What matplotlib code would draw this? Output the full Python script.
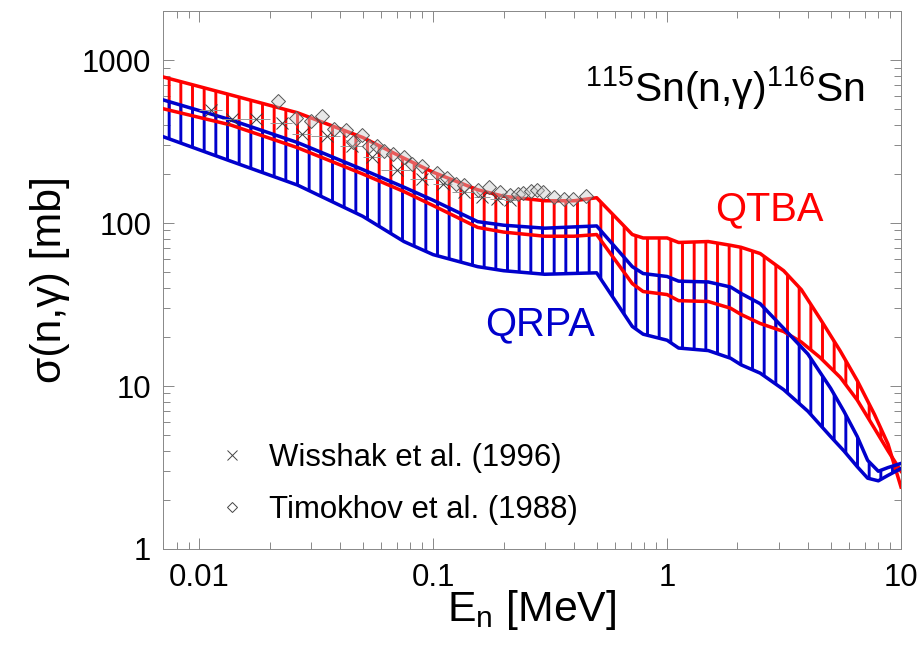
import matplotlib
matplotlib.use("Agg")
import matplotlib.pyplot as plt
from matplotlib.lines import Line2D
from matplotlib.ticker import LogLocator, NullFormatter, FuncFormatter

# Figure is laid out at 70 dpi so the '|' hatch (6 lines/inch) gives ~12 px spacing
DPI = 70
plt.rcParams['font.family'] = ['Liberation Sans', 'DejaVu Sans']
plt.rcParams['mathtext.fontset'] = 'custom'
plt.rcParams['mathtext.rm'] = 'Liberation Sans'
plt.rcParams['mathtext.it'] = 'Liberation Sans:italic'
plt.rcParams['mathtext.default'] = 'regular'
plt.rcParams['hatch.linewidth'] = 3.0

RED = '#ff0000'
BLUE = '#0000cc'

# QTBA band (upper / lower limits), energies in MeV, cross sections in mb
e_qtba = [0.007, 0.0136, 0.0263, 0.05, 0.075, 0.1, 0.155, 0.2, 0.3, 0.4, 0.5,
          0.71, 0.79, 1.0, 1.12, 1.5, 1.87, 2.07, 2.5, 3.15, 3.75, 4.5, 5.5,
          6.5, 7.7, 8.8, 10.0]
qtba_hi = [788, 612, 475, 335, 250, 205, 160, 146, 137, 137, 143,
           85, 81, 81, 76, 77, 73, 71, 65, 51, 39, 26, 16.4,
           10.8, 6.7, 4.4, 2.4]
qtba_lo = [503, 400, 290, 200, 156, 128, 94, 88, 83, 83, 85,
           42.5, 38, 36.4, 33.4, 33, 30, 27.5, 24.2, 21.6, 18.6, 15, 11.3,
           8.2, 5.5, 4.0, 3.0]

# QRPA band
e_qrpa = [0.007, 0.0136, 0.0263, 0.05, 0.075, 0.1, 0.155, 0.2, 0.3, 0.5,
          0.71, 0.79, 1.0, 1.12, 1.5, 1.87, 2.07, 2.5, 3.15, 4.0, 5.0, 5.7,
          6.5, 7.2, 8.0, 8.8, 10.0]
qrpa_hi = [570, 430, 312, 213, 166, 138, 102, 97, 93, 96,
           54, 49, 47, 44, 43.5, 40.5, 37, 32, 22.6, 15.7, 9.7, 7.0,
           4.9, 3.5, 3.0, 3.16, 3.35]
qrpa_lo = [339, 240, 171, 110, 77, 64, 54, 51, 48.5, 49.5,
           23.2, 20.8, 19.1, 17.1, 16.5, 14.8, 13.5, 12.0, 9.5, 7.0, 4.9, 4.0,
           3.2, 2.72, 2.62, 2.83, 3.12]

# Wisshak et al. (1996): energy bins [MeV] and cross sections [mb]
wis_elo = [0.010, 0.0125, 0.015, 0.020, 0.025, 0.030, 0.040, 0.050, 0.060,
           0.080, 0.100, 0.120, 0.150, 0.175, 0.200]
wis_ehi = [0.0125, 0.015, 0.020, 0.025, 0.030, 0.040, 0.050, 0.060, 0.080,
           0.100, 0.120, 0.150, 0.175, 0.200, 0.225]
wis_sig = [496, 437, 437, 413, 354, 344, 299, 253, 213, 185, 173, 155, 144,
           140, 138]

# Timokhov et al. (1988)
tim_e = [0.0218, 0.026, 0.0299, 0.0336, 0.0378, 0.0422, 0.0456, 0.0498,
         0.0534, 0.0577, 0.0619, 0.0676, 0.0747, 0.0815, 0.090, 0.104, 0.115,
         0.125, 0.135, 0.155, 0.173, 0.194, 0.214, 0.230, 0.243, 0.261, 0.279,
         0.296, 0.327, 0.361, 0.398, 0.449]
tim_sig = [562, 443, 425, 456, 379, 374, 316, 349, 295, 299, 275, 264, 253,
           229, 223, 202, 188, 173, 170, 159, 166, 155, 148, 150, 152, 157, 159,
           155, 144, 140, 140, 146]

fig = plt.figure(figsize=(920 / DPI, 655 / DPI), dpi=DPI)
ax = fig.add_axes([163 / 920, 106 / 655, 738 / 920, 538 / 655])
ax.set_xscale('log')
ax.set_yscale('log')

# theory bands: hatched area plus boundary lines
for e, hi, lo, col in [(e_qtba, qtba_hi, qtba_lo, RED),
                       (e_qrpa, qrpa_hi, qrpa_lo, BLUE)]:
    ax.fill_between(e, lo, hi, facecolor='none', edgecolor=col, hatch='|',
                    linewidth=0, zorder=2)
    ax.plot(e, hi, color=col, lw=3.6, zorder=3)
    ax.plot(e, lo, color=col, lw=3.6, zorder=3)

# experimental data
wis_e = [(a + b) / 2 for a, b in zip(wis_elo, wis_ehi)]
xerr = [[c - a for a, c in zip(wis_elo, wis_e)],
        [b - c for b, c in zip(wis_ehi, wis_e)]]
ax.errorbar(wis_e, wis_sig, xerr=xerr, fmt='x', color='#3a3a3a', ecolor='#999999',
            elinewidth=1, ms=13, mew=1, capsize=0, zorder=5)
ax.plot(tim_e, tim_sig, 'D', ms=10, mfc=(0.8, 0.8, 0.8, 0.45), mec='#555555',
        mew=1, zorder=6)

ax.set_xlim(0.007, 10)
ax.set_ylim(1, 2000)

fmt = FuncFormatter(lambda v, p: '%g' % v)
ax.xaxis.set_major_locator(LogLocator(base=10, numticks=10))
ax.yaxis.set_major_locator(LogLocator(base=10, numticks=10))
ax.xaxis.set_minor_locator(LogLocator(base=10, subs=range(2, 10), numticks=20))
ax.yaxis.set_minor_locator(LogLocator(base=10, subs=range(2, 10), numticks=20))
ax.xaxis.set_major_formatter(fmt)
ax.yaxis.set_major_formatter(fmt)
ax.xaxis.set_minor_formatter(NullFormatter())
ax.yaxis.set_minor_formatter(NullFormatter())

ax.tick_params(which='both', direction='in', top=True, right=True,
               color='#888888', width=1, labelsize=32)
ax.tick_params(which='major', length=11)
ax.tick_params(which='minor', length=7)
ax.tick_params(axis='y', pad=12)
ax.tick_params(axis='x', pad=14)
for s in ax.spines.values():
    s.set_color('#888888')
    s.set_linewidth(1)

ax.set_xlabel('E$_{n}$ [MeV]', fontsize=44, labelpad=-5)
ax.set_ylabel('σ(n,γ) [mb]', fontsize=44, labelpad=12)

ax.text(0.572, 0.831, '$^{115}$Sn(n,γ)$^{116}$Sn', transform=ax.transAxes,
        fontsize=42, ha='left', va='baseline')
ax.text(0.748, 0.6115, 'QTBA', color=RED, transform=ax.transAxes,
        fontsize=41, ha='left', va='baseline')
ax.text(0.4363, 0.3978, 'QRPA', color=BLUE, transform=ax.transAxes,
        fontsize=41, ha='left', va='baseline')

handles = [Line2D([], [], ls='none', marker='x', color='#444444', ms=10, mew=1),
           Line2D([], [], ls='none', marker='D', ms=7, mfc='white',
                  mec='#444444', mew=1)]
ax.legend(handles, ['Wisshak et al. (1996)', 'Timokhov et al. (1988)'],
          loc='upper left', bbox_to_anchor=(0.0718, 0.197), frameon=False,
          fontsize=32, handlelength=1.0, handletextpad=0.69, labelspacing=0.7,
          borderpad=0, borderaxespad=0)

fig.savefig('out.png', dpi=DPI, facecolor='white')
